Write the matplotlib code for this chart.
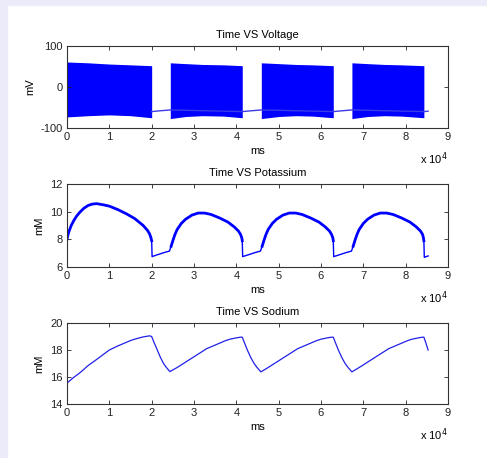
import numpy as np
import matplotlib
matplotlib.use("Agg")
import matplotlib.pyplot as plt
from matplotlib.patches import Rectangle

plt.rcParams['font.family'] = ['Liberation Sans', 'DejaVu Sans']
plt.rcParams['font.size'] = 8
plt.rcParams['axes.unicode_minus'] = False

# burst windows (ms)
burst_start = [0, 24400, 45900, 67300]
burst_end = [20000, 41400, 62900, 84300]

# voltage envelope of each burst: (time, top, bottom)
burst_t = [[0, 5000, 10000, 15000, 20000],
           [24400, 28000, 32000, 37000, 41400],
           [45900, 50000, 54000, 58000, 62900],
           [67300, 71000, 75000, 79000, 84300]]
burst_top = [[61, 59, 56, 54, 52],
             [59, 57, 55, 54, 52],
             [59, 57, 55, 54, 52],
             [59, 57, 55, 54, 52]]
burst_bot = [[-73, -70, -68, -70, -75],
             [-77, -72, -70, -71, -75],
             [-77, -72, -70, -71, -75],
             [-77, -72, -70, -71, -75]]

# resting voltage between bursts
rest_t = [20000, 22000, 24400, 41400, 43500, 45900, 62900, 65000, 67300, 84300, 85300]
rest_v = [-60, -58, -56, -60, -58, -56, -60, -58, -56, -60, -59]

# potassium (mM)
k_t = [0, 200, 500, 1000, 1500, 2200, 3000, 4000, 5000, 6000, 7000, 8500, 10000, 12000,
       14000, 16000, 18000, 19000, 19500, 19800, 20000, 20100,
       21000, 23000, 24200, 24600, 25000, 25500, 26000, 27000, 28000, 29500, 31000, 32500,
       34000, 36000, 38000, 39500, 40500, 41000, 41300, 41400, 41500,
       42500, 44500, 45700, 46100, 46500, 47000, 47500, 48500, 49500, 51000, 52500, 54000,
       55500, 57500, 59500, 61000, 62000, 62500, 62800, 62900, 63000,
       64000, 66000, 67200, 67600, 68000, 68500, 69000, 70000, 71000, 72500, 74000, 75500,
       77000, 79000, 81000, 82500, 83500, 84000, 84200, 84300, 84400, 85300]
k_v = [8.0, 8.3, 8.6, 9.0, 9.3, 9.65, 9.95, 10.25, 10.45, 10.55, 10.58, 10.5, 10.4, 10.15,
       9.85, 9.5, 9.0, 8.65, 8.4, 8.15, 7.9, 6.75,
       6.85, 7.05, 7.15, 7.5, 7.9, 8.35, 8.7, 9.15, 9.45, 9.75, 9.9, 9.9,
       9.8, 9.55, 9.25, 8.9, 8.6, 8.35, 8.1, 7.9, 6.75,
       6.85, 7.05, 7.15, 7.5, 7.9, 8.35, 8.7, 9.15, 9.45, 9.75, 9.9, 9.9,
       9.8, 9.55, 9.25, 8.9, 8.6, 8.35, 8.1, 7.9, 6.75,
       6.85, 7.05, 7.15, 7.5, 7.9, 8.35, 8.7, 9.15, 9.45, 9.75, 9.9, 9.9,
       9.8, 9.55, 9.25, 8.9, 8.6, 8.35, 8.1, 7.9, 6.7, 6.8]

# sodium (mM)
na_t = [0, 1500, 3000, 5000, 7000, 8500, 10000, 12000, 13500, 15000, 16500, 18000, 19500,
        20000, 20500, 21200, 22000, 22800, 23500, 24300,
        26000, 27500, 29000, 30000, 31500, 33000, 34500, 36000, 37500, 38500, 40000, 41000, 41400,
        41900, 42600, 43400, 44200, 44900, 45800,
        47500, 49000, 50500, 51500, 53000, 54500, 56000, 57500, 59000, 60000, 61500, 62500, 62900,
        63400, 64100, 64900, 65700, 66400, 67300,
        69000, 70500, 72000, 73000, 74500, 76000, 77500, 79000, 80500, 81500, 83000, 84000, 84300,
        84800, 85300]
na_v = [15.55, 15.95, 16.3, 16.85, 17.3, 17.65, 18.0, 18.3, 18.5, 18.7, 18.85, 18.97, 19.05,
        19.0, 18.6, 18.1, 17.5, 17.0, 16.7, 16.4,
        16.7, 17.0, 17.3, 17.5, 17.8, 18.1, 18.3, 18.5, 18.7, 18.8, 18.9, 18.95, 18.95,
        18.55, 18.0, 17.45, 17.0, 16.7, 16.38,
        16.7, 17.0, 17.3, 17.5, 17.8, 18.1, 18.3, 18.5, 18.7, 18.8, 18.9, 18.95, 18.95,
        18.55, 18.0, 17.45, 17.0, 16.7, 16.38,
        16.7, 17.0, 17.3, 17.5, 17.8, 18.1, 18.3, 18.5, 18.7, 18.8, 18.9, 18.95, 18.95,
        18.5, 18.0]

x_ticks = np.arange(0, 10) * 10000
x_tick_labels = [str(i) for i in range(10)]

fig = plt.figure(figsize=(4.87, 4.58), dpi=100)
fig.patch.set_facecolor('white')
fig.patches.append(Rectangle((0, 0), 7 / 487, 1, transform=fig.transFigure,
                             color='#ebebfa', zorder=0))
fig.patches.append(Rectangle((0, 1 - 5 / 458), 1, 5 / 458, transform=fig.transFigure,
                             color='#ebebfa', zorder=0))

W, H = 487, 458
left, right = 67, 448
boxes = [(46, 128), (184, 267), (323, 404)]
axes = []
for top, bot in boxes:
    ax = fig.add_axes([left / W, 1 - bot / H, (right - left) / W, (bot - top) / H])
    axes.append(ax)

blue = '#0000ff'

# voltage
ax = axes[0]
ax.plot(rest_t, rest_v, color='#3a3ae6', lw=1)
for t, top, bot in zip(burst_t, burst_top, burst_bot):
    ax.fill_between(t, bot, top, color=blue, lw=0)
ax.set_ylim(-100, 100)
ax.set_yticks([-100, 0, 100])
ax.set_title('Time VS Voltage', fontsize=8, pad=6)
ax.set_ylabel('mV')

# potassium
ax = axes[1]
kt = np.array(k_t)
kv = np.array(k_v)
ax.plot(kt, kv, color=blue, lw=1)
for s, e in zip(burst_start, burst_end):
    m = (kt >= s) & (kt <= e)
    ax.plot(kt[m], kv[m], color=blue, lw=2)
ax.set_ylim(6, 12)
ax.set_yticks([6, 8, 10, 12])
ax.set_title('Time VS Potassium', fontsize=8, pad=6)
ax.set_ylabel('mM')

# sodium
ax = axes[2]
ax.plot(na_t, na_v, color='#2020e8', lw=0.9)
ax.set_ylim(14, 20)
ax.set_yticks([14, 16, 18, 20])
ax.set_title('Time VS Sodium', fontsize=8, pad=6)
ax.set_ylabel('mM')

for ax in axes:
    ax.set_xlim(0, 90000)
    ax.set_xticks(x_ticks)
    ax.set_xticklabels(x_tick_labels)
    ax.set_xlabel('ms', labelpad=3)
    ax.tick_params(direction='in', top=True, right=True, length=3, width=0.6,
                   colors='#222222', labelsize=8, pad=3)
    for sp in ax.spines.values():
        sp.set_color('#333333')
        sp.set_linewidth(0.8)
    ax.annotate('x 10$^4$', xy=(1, 0), xycoords='axes fraction',
                xytext=(0, -22), textcoords='offset points',
                ha='right', va='center', fontsize=8)

fig.savefig('out.png', dpi=100)
